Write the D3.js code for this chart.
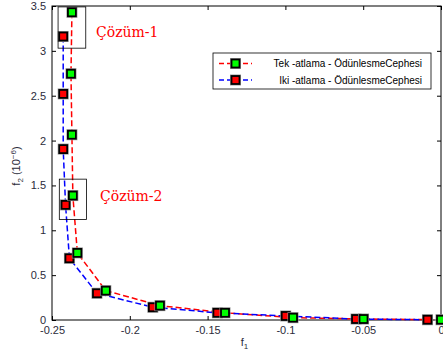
<!DOCTYPE html>
<html>
<head>
<meta charset="utf-8">
<script src="https://cdn.jsdelivr.net/npm/d3@7"></script>
<style>
  body { margin: 0; background: #fff; }
  svg { display: block; }
</style>
</head>
<body>
<svg id="chart"></svg>
<script>
// f1 values and f2 values (x 10^-6) for both series
const tekF1 = [-0.2372, -0.2378, -0.2372, -0.2366, -0.2337, -0.2154, -0.1806, -0.1388, -0.0951, -0.0498, 0.0];
const tekF2 = [3.43, 2.745, 2.065, 1.387, 0.748, 0.327, 0.160, 0.080, 0.026, 0.011, 0.003];
const ikiF1 = [-0.2428, -0.2428, -0.2428, -0.2413, -0.2388, -0.2211, -0.1852, -0.1437, -0.0998, -0.0546, -0.0087];
const ikiF2 = [3.16, 2.52, 1.905, 1.283, 0.688, 0.298, 0.142, 0.080, 0.045, 0.011, 0.003];

const xTicks = [-0.25, -0.2, -0.15, -0.1, -0.05, 0];
const yTicks = [0, 0.5, 1, 1.5, 2, 2.5, 3, 3.5];

const seriesNames = ["Tek -atlama - ÖdünlesmeCephesi", "Iki -atlama - ÖdünlesmeCephesi"];
const lineColors = ["#ff0000", "#0000ff"];
const markerColors = ["#00ff00", "#ff0000"];

// annotation boxes in data units: [f1min, f1max, f2min, f2max]
const boxes = [[-0.2461, -0.2283, 3.03, 3.49], [-0.2453, -0.2278, 1.12, 1.57]];
const boxLabels = ["Çözüm-1", "Çözüm-2"];

const width = 443, height = 358;
const margin = { top: 6, right: 2, bottom: 38, left: 52 };

const svg = d3.select("#chart")
    .attr("width", width)
    .attr("height", height);

const x = d3.scaleLinear()
    .domain([-0.25, 0])
    .range([margin.left, width - margin.right]);

const y = d3.scaleLinear()
    .domain([0, 3.5])
    .range([height - margin.bottom, margin.top]);

const textColor = "#2b2b3a";

// axes with inward ticks on all four sides
const fmt = d => d === 0 ? "0" : String(d);
svg.append("g")
    .attr("transform", `translate(0,${y(0)})`)
    .call(d3.axisBottom(x).tickValues(xTicks).tickSizeInner(-4).tickSizeOuter(0).tickPadding(6).tickFormat(fmt))
    .call(g => g.select(".domain").remove());
svg.append("g")
    .attr("transform", `translate(${x(-0.25)},0)`)
    .call(d3.axisLeft(y).tickValues(yTicks).tickSizeInner(-4).tickSizeOuter(0).tickPadding(6).tickFormat(fmt))
    .call(g => g.select(".domain").remove());
svg.append("g")
    .attr("transform", `translate(0,${y(3.5)})`)
    .call(d3.axisTop(x).tickValues(xTicks).tickSizeInner(-4).tickSizeOuter(0).tickFormat(""))
    .call(g => g.select(".domain").remove());
svg.append("g")
    .attr("transform", `translate(${x(0)},0)`)
    .call(d3.axisRight(y).tickValues(yTicks).tickSizeInner(-4).tickSizeOuter(0).tickFormat(""))
    .call(g => g.select(".domain").remove());

svg.selectAll(".tick text")
    .style("font-family", "Liberation Sans, Arial, sans-serif")
    .style("font-size", "11px")
    .attr("fill", textColor);
svg.selectAll(".tick line").attr("stroke", "#000");

svg.append("rect")
    .attr("x", x(-0.25)).attr("y", y(3.5))
    .attr("width", x(0) - x(-0.25)).attr("height", y(0) - y(3.5))
    .attr("fill", "none").attr("stroke", "#000").attr("stroke-width", 1);

// axis labels
const xl = svg.append("text")
    .attr("x", (x(-0.25) + x(0)) / 2 - 2).attr("y", 346)
    .attr("text-anchor", "middle")
    .style("font-family", "Liberation Sans, Arial, sans-serif")
    .style("font-size", "11px").attr("fill", textColor);
xl.append("tspan").text("f");
xl.append("tspan").attr("dy", 3).style("font-size", "8px").text("1");

const yl = svg.append("text")
    .attr("transform", `translate(20,${(y(0) + y(3.5)) / 2 + 3}) rotate(-90)`)
    .attr("text-anchor", "middle")
    .style("font-family", "Liberation Sans, Arial, sans-serif")
    .style("font-size", "11px").attr("fill", textColor);
yl.append("tspan").text("f");
yl.append("tspan").attr("dy", 3).style("font-size", "8px").text("2");
yl.append("tspan").attr("dy", -3).text(" (10");
yl.append("tspan").attr("dy", -4).style("font-size", "8px").text("−6");
yl.append("tspan").attr("dy", 4).text(")");

// series
const series = [
    tekF1.map((v, i) => ({ f1: v, f2: tekF2[i] })),
    ikiF1.map((v, i) => ({ f1: v, f2: ikiF2[i] }))
];

const line = d3.line().x(d => x(d.f1)).y(d => y(d.f2));

series.forEach((s, k) => {
    svg.append("path")
        .datum(s)
        .attr("d", line)
        .attr("fill", "none")
        .attr("stroke", lineColors[k])
        .attr("stroke-width", 1.5)
        .attr("stroke-dasharray", "6,3");
});

const ms = 8;
function drawMarker(g, cx, cy, color) {
    g.append("rect")
        .attr("x", cx - ms / 2 - 1).attr("y", cy - ms / 2 - 1)
        .attr("width", ms + 2).attr("height", ms + 2)
        .attr("fill", "none").attr("stroke", "#999").attr("stroke-width", 1);
    g.append("rect")
        .attr("x", cx - ms / 2).attr("y", cy - ms / 2)
        .attr("width", ms).attr("height", ms)
        .attr("fill", color).attr("stroke", "#000").attr("stroke-width", 1.8);
}

const markers = svg.append("g");
[1, 0].forEach(k => {
    series[k].forEach(d => drawMarker(markers, x(d.f1), y(d.f2), markerColors[k]));
});

// annotation boxes and labels
boxes.forEach((b, i) => {
    svg.append("rect")
        .attr("x", x(b[0])).attr("y", y(b[3]))
        .attr("width", x(b[1]) - x(b[0])).attr("height", y(b[2]) - y(b[3]))
        .attr("fill", "none").attr("stroke", "#000").attr("stroke-width", 0.8);
});
svg.append("text")
    .attr("x", 96).attr("y", 37)
    .style("font-family", "DejaVu Serif, serif").style("font-size", "14px")
    .attr("fill", "#ff0000").text(boxLabels[0]);
svg.append("text")
    .attr("x", 100).attr("y", 201)
    .style("font-family", "DejaVu Serif, serif").style("font-size", "14px")
    .attr("fill", "#ff0000").text(boxLabels[1]);

// legend
const legend = svg.append("g");
legend.append("rect")
    .attr("x", 213).attr("y", 53).attr("width", 218).attr("height", 36)
    .attr("fill", "#fff").attr("stroke", "#000").attr("stroke-width", 0.8);
seriesNames.forEach((name, k) => {
    const ly = 63.5 + k * 16.5;
    legend.append("line")
        .attr("x1", 219).attr("x2", 252).attr("y1", ly).attr("y2", ly)
        .attr("stroke", lineColors[k]).attr("stroke-width", 1.5)
        .attr("stroke-dasharray", "5,3");
    drawMarker(legend, 235.5, ly, markerColors[k]);
    legend.append("text")
        .attr("x", 422).attr("y", ly + 3.5)
        .attr("text-anchor", "end")
        .style("font-family", "Liberation Sans, Arial, sans-serif")
        .style("font-size", "10px").attr("fill", "#000")
        .text(name);
});
</script>
</body>
</html>
